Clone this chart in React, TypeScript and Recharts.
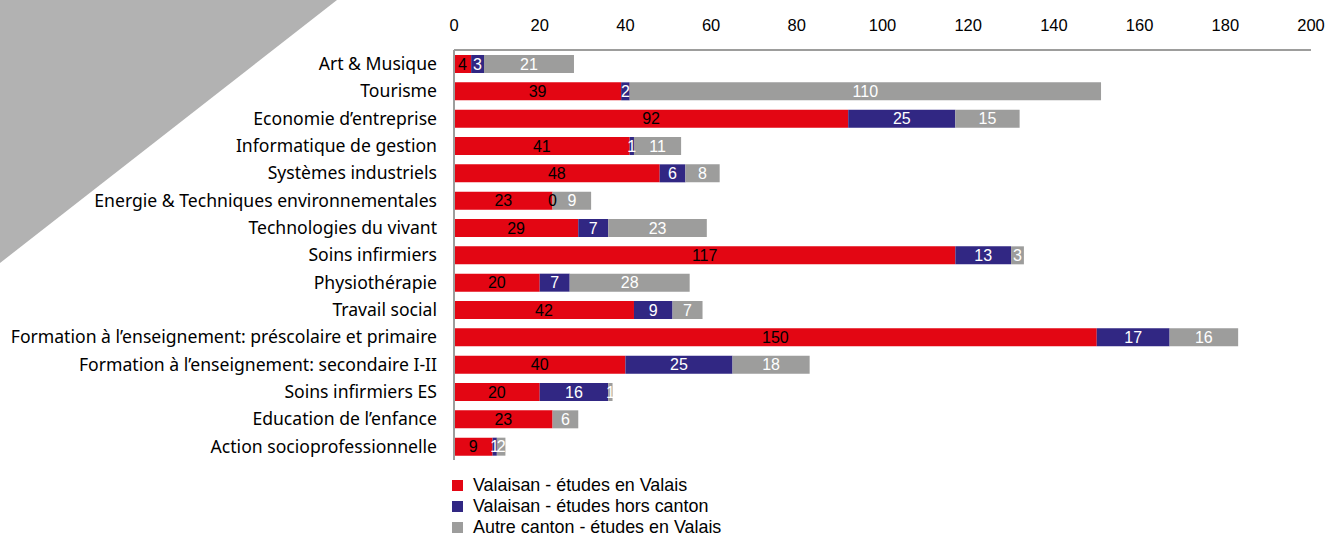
import { BarChart, Bar, XAxis, YAxis, LabelList } from "recharts"

const categories = [
  "Art & Musique",
  "Tourisme",
  "Economie d’entreprise",
  "Informatique de gestion",
  "Systèmes industriels",
  "Energie & Techniques environnementales",
  "Technologies du vivant",
  "Soins infirmiers",
  "Physiothérapie",
  "Travail social",
  "Formation à l’enseignement: préscolaire et primaire",
  "Formation à l’enseignement: secondaire I-II",
  "Soins infirmiers ES",
  "Education de l’enfance",
  "Action socioprofessionnelle",
]

const valaisanValais = [4, 39, 92, 41, 48, 23, 29, 117, 20, 42, 150, 40, 20, 23, 9]
const valaisanHors = [3, 2, 25, 1, 6, 0, 7, 13, 7, 9, 17, 25, 16, null, 1]
const autreCanton = [21, 110, 15, 11, 8, 9, 23, 3, 28, 7, 16, 18, 1, 6, 2]

const xTicks = [0, 20, 40, 60, 80, 100, 120, 140, 160, 180, 200]

const SERIES = [
  { key: "vv", name: "Valaisan - études en Valais", color: "#e30613", text: "#000000" },
  { key: "vh", name: "Valaisan - études hors canton", color: "#312783", text: "#ffffff" },
  { key: "ac", name: "Autre canton - études en Valais", color: "#9d9d9c", text: "#ffffff" },
]

const data = categories.map((name, i) => ({
  name,
  vv: valaisanValais[i],
  vh: valaisanHors[i],
  ac: autreCanton[i],
}))

const LABEL_FONT = "'Liberation Sans', Arial, sans-serif"
const TEXT_FONT = "'Noto Sans', 'Open Sans', sans-serif"
const AXIS_GREY = "#9d9d9c"

function makeLabel(textColor: string) {
  return (props: any) => {
    const { x, y, width, height, value } = props
    if (value === null || value === undefined || value === 0) return null
    return (
      <text
        x={Number(x) + Number(width) / 2}
        y={Number(y) + Number(height) / 2}
        dy="0.36em"
        textAnchor="middle"
        fill={textColor}
        fontFamily={LABEL_FONT}
        fontSize={16}
      >
        {value}
      </text>
    )
  }
}

// zero-sized blue segments are not drawn, so their "0" sits at the end of the red bar
function zeroLabel(props: any) {
  const { x, y, width, height, value } = props
  if (value !== 0) return null
  return (
    <text
      x={Number(x) + Number(width)}
      y={Number(y) + Number(height) / 2}
      dy="0.36em"
      textAnchor="middle"
      fill="#000000"
      fontFamily={LABEL_FONT}
      fontSize={16}
    >
      0
    </text>
  )
}

function LegendBox() {
  return (
    <div style={{ position: "absolute", left: 452, top: 475, fontFamily: LABEL_FONT, fontSize: 17.9, lineHeight: "21px", color: "#000" }}>
      {SERIES.map((s) => (
        <div key={s.key} style={{ display: "flex", alignItems: "center", height: 21, whiteSpace: "nowrap" }}>
          <span style={{ width: 11, height: 11, background: s.color, display: "inline-block", marginRight: 10 }} />
          <span>{s.name}</span>
        </div>
      ))}
    </div>
  )
}

export default function App() {
  return (
    <div style={{ position: "absolute", left: 0, top: 0, width: 1327, height: 538, background: "#fff", overflow: "hidden" }}>
      <svg width={1327} height={538} style={{ position: "absolute", left: 0, top: 0 }}>
        <polygon points="0,0 337,0 0,263" fill="#b2b2b2" />
      </svg>
      <div style={{ position: "absolute", left: 0, top: 0 }}>
        <BarChart
          width={1327}
          height={538}
          data={data}
          layout="vertical"
          margin={{ top: 20, right: 16, bottom: 78, left: 0 }}
          barSize={18}
        >
          <XAxis
            type="number"
            orientation="top"
            domain={[0, 200]}
            ticks={xTicks}
            height={30}
            tickSize={0}
            tickMargin={19}
            tickLine={false}
            axisLine={{ stroke: AXIS_GREY, strokeWidth: 2 }}
            tick={{ fill: "#000", fontSize: 16.5, fontFamily: LABEL_FONT }}
            interval={0}
          />
          <YAxis
            type="category"
            dataKey="name"
            width={454}
            tickSize={0}
            tickMargin={17}
            tickLine={false}
            axisLine={{ stroke: AXIS_GREY, strokeWidth: 2 }}
            tick={{ fill: "#000", fontSize: 17.6, fontFamily: TEXT_FONT }}
            interval={0}
          />
          {SERIES.map((s) => (
            <Bar key={s.key} dataKey={s.key} name={s.name} stackId="a" fill={s.color} isAnimationActive={false}>
              <LabelList dataKey={s.key} content={makeLabel(s.text)} />
              {s.key === "vv" && <LabelList dataKey="vh" content={zeroLabel} />}
            </Bar>
          ))}
        </BarChart>
      </div>
      <LegendBox />
    </div>
  )
}
